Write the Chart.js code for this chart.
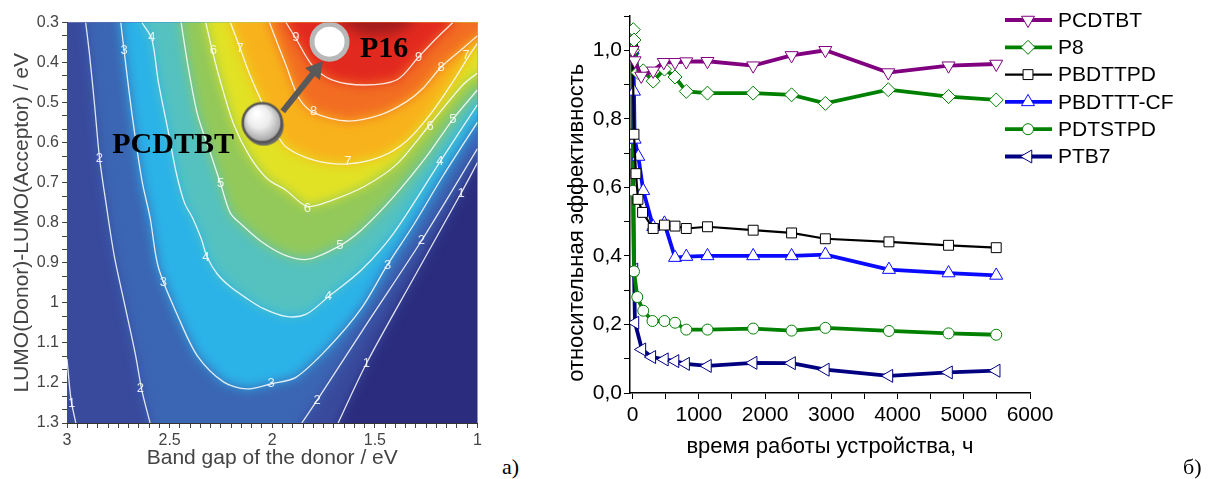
<!DOCTYPE html>
<html>
<head>
<meta charset="utf-8">
<script src="https://cdn.jsdelivr.net/npm/chart.js@4.4.1/dist/chart.umd.min.js"></script>
<style>
  body { margin: 0; background: #fff; width: 1212px; height: 479px; overflow: hidden; position: relative; }
  #map { position: absolute; left: 0; top: 0; }
  #chart { position: absolute; left: 520px; top: 0; }
  .tag { position: absolute; font-family: "Liberation Serif", "Times New Roman", serif; font-size: 22px; line-height: 22px; }
</style>
</head>
<body>
<canvas id="map" width="500" height="479"></canvas>
<canvas id="chart" width="692" height="479"></canvas>
<div class="tag" style="left:502px; top:456px">а)</div>
<div class="tag" style="left:1183px; top:456px">б)</div>
<script>
// ---- left panel: efficiency map, contours as [band gap, dLUMO] ----
const contour1Left = [[3.0, 1.14], [2.98, 1.243], [2.957, 1.3]];
const contour1Right = [[1.679, 1.3], [1.542, 1.152], [1.311, 0.938], [1.081, 0.727], [1.0, 0.65]];
const contour2Left = [[2.909, 0.3], [2.89, 0.381], [2.866, 0.504], [2.842, 0.636], [2.81, 0.751],
  [2.77, 0.882], [2.722, 0.997], [2.667, 1.128], [2.635, 1.219], [2.595, 1.3]];
const contour2Right = [[1.856, 1.3], [1.781, 1.243], [1.526, 1.042], [1.273, 0.845], [1.0, 0.615]];
const contour3 = [[2.738, 0.3], [2.722, 0.37], [2.683, 0.53], [2.635, 0.694], [2.595, 0.788], [2.555, 0.911],
  [2.459, 1.034], [2.364, 1.133], [2.236, 1.198], [2.124, 1.215], [2.005, 1.202], [1.885, 1.186],
  [1.727, 1.112], [1.566, 1.014], [1.44, 0.906], [1.311, 0.805], [1.167, 0.682], [1.0, 0.549]];
const contour4 = [[2.635, 0.3], [2.587, 0.341], [2.555, 0.448], [2.507, 0.571], [2.467, 0.677], [2.427, 0.751],
  [2.388, 0.788], [2.348, 0.837], [2.316, 0.887], [2.268, 0.928], [2.204, 0.96], [2.124, 0.989],
  [2.045, 1.014], [1.933, 1.034], [1.837, 1.029], [1.727, 0.985], [1.566, 0.918], [1.407, 0.825],
  [1.183, 0.648], [1.0, 0.505]];
const contour5 = [[2.444, 0.3], [2.411, 0.407], [2.364, 0.53], [2.3, 0.628], [2.252, 0.702], [2.204, 0.776],
  [2.148, 0.805], [2.045, 0.85], [1.933, 0.882], [1.823, 0.891], [1.67, 0.857], [1.566, 0.818],
  [1.407, 0.734], [1.249, 0.635], [1.12, 0.542], [1.0, 0.468]];
const contour6 = [[2.324, 0.3], [2.292, 0.37], [2.252, 0.448], [2.188, 0.554], [2.109, 0.635], [2.024, 0.69],
  [1.933, 0.719], [1.829, 0.759], [1.71, 0.744], [1.55, 0.709], [1.392, 0.653], [1.231, 0.554],
  [1.072, 0.456], [1.0, 0.426]];
const contour7 = [[2.204, 0.3], [2.156, 0.365], [2.109, 0.431], [2.045, 0.505], [1.99, 0.567], [1.933, 0.611],
  [1.789, 0.645], [1.632, 0.653], [1.47, 0.635], [1.344, 0.595], [1.231, 0.53], [1.12, 0.448],
  [1.04, 0.382], [1.0, 0.352]];
const contour8 = [[2.014, 0.3], [1.933, 0.407], [1.871, 0.488], [1.799, 0.525], [1.632, 0.546], [1.47, 0.53],
  [1.344, 0.497], [1.263, 0.463], [1.177, 0.411], [1.072, 0.365], [1.0, 0.333]];
const contour9 = [[1.933, 0.3], [1.885, 0.34], [1.805, 0.407], [1.71, 0.443], [1.55, 0.456], [1.392, 0.443],
  [1.287, 0.386], [1.201, 0.34], [1.12, 0.3]];
const hotSpot = [[1.67, 0.3], [1.55, 0.333], [1.407, 0.328], [1.311, 0.3]];

const bandColors = ['#2b2c7e', '#394a9c', '#3b66b4', '#2bb3e8', '#55c2bf', '#93c95a',
  '#e2e224', '#f8b21b', '#f26d22', '#e2291f', '#a31c1c'];

const labelText = ['3', '4', '6', '7', '9', '2', '5', '8', '7', '6', '5', '4', '3', '3', '4', '2', '1',
  '9', '8', '7', '6', '5', '4', '3', '2', '1', '1', '2'];
const labelEg = [2.722, 2.587, 2.287, 2.156, 1.885, 2.842, 2.252, 1.799, 1.632, 1.829, 1.67, 1.726, 2.005,
  2.531, 2.324, 2.643, 2.978, 1.287, 1.177, 1.057, 1.231, 1.12, 1.183, 1.438, 1.273, 1.08, 1.542, 1.781];
const labelD = [0.37, 0.338, 0.37, 0.365, 0.338, 0.64, 0.702, 0.522, 0.648, 0.764, 0.857, 0.985, 1.202,
  0.948, 0.887, 1.214, 1.251, 0.387, 0.411, 0.382, 0.559, 0.542, 0.648, 0.906, 0.845, 0.727, 1.152, 1.243];

const pcdtbtPoint = [2.049, 0.55];
const p16Point = [1.721, 0.348];
const arrowPath = [[1.949, 0.522], [1.787, 0.418]];
const nameText = ['PCDTBT', 'P16'];
const nameEg = [2.483, 1.455];
const nameD = [0.606, 0.366];

// ---- right panel: relative efficiency vs hours ----
const timePCDTBT = [0, 30, 130, 310, 470, 640, 810, 1130, 1820, 2400, 2910, 3860, 4770, 5490];
const effPCDTBT = [1.0, 0.97, 0.925, 0.94, 0.965, 0.965, 0.967, 0.968, 0.955, 0.985, 1.0, 0.935, 0.955, 0.96];
const timeP8 = [0, 10, 20, 80, 160, 310, 480, 640, 810, 1130, 1820, 2400, 2910, 3860, 4770, 5490];
const effP8 = [1.0, 1.06, 1.03, 0.935, 0.94, 0.91, 0.945, 0.922, 0.88, 0.875, 0.875, 0.87, 0.845, 0.885, 0.865, 0.855];
const timePBDTTPD = [0, 20, 50, 80, 150, 310, 480, 640, 810, 1130, 1820, 2400, 2910, 3870, 4770, 5490];
const effPBDTTPD = [1.0, 0.755, 0.64, 0.565, 0.527, 0.48, 0.49, 0.487, 0.48, 0.485, 0.475, 0.467, 0.45, 0.441, 0.431, 0.424];
const timePBDTTTCF = [0, 20, 30, 85, 160, 310, 480, 640, 810, 1130, 1820, 2400, 2910, 3870, 4770, 5490];
const effPBDTTTCF = [1.0, 0.88, 0.74, 0.69, 0.59, 0.485, 0.495, 0.395, 0.398, 0.4, 0.4, 0.4, 0.404, 0.36, 0.35, 0.343];
const timePDTSTPD = [0, 5, 20, 70, 160, 300, 480, 640, 810, 1130, 1820, 2400, 2910, 3870, 4770, 5490];
const effPDTSTPD = [1.0, 0.59, 0.355, 0.28, 0.24, 0.21, 0.21, 0.205, 0.185, 0.185, 0.188, 0.182, 0.19, 0.181, 0.174, 0.17];
const timePTB7 = [15, 5, 20, 35, 140, 290, 480, 640, 800, 1130, 1820, 2400, 2910, 3870, 4770, 5490];
const effPTB7 = [1.0, 0.72, 0.36, 0.205, 0.127, 0.105, 0.098, 0.093, 0.085, 0.079, 0.088, 0.087, 0.068, 0.05, 0.06, 0.065];

Chart.defaults.font.family = '"Liberation Sans", Arial, sans-serif';
Chart.defaults.color = '#000';

const toPts = arr => arr.map(p => ({x: p[0], y: p[1]}));

// polygons closed outside the plot so the soft edges only show at contours
const OUT_L = 3.2, OUT_R = 0.8, OUT_T = 0.2, OUT_B = 1.4;
function closeTop(c) {
  const first = c[0], last = c[c.length - 1];
  const tail = last[0] <= 1.0001 ? [[OUT_R, last[1]], [OUT_R, OUT_T]] : [[last[0], OUT_T]];
  return c.concat(tail, [[first[0], OUT_T]]);
}
const bandShapes = [
  [[OUT_L, OUT_T], [OUT_R, OUT_T], [OUT_R, OUT_B], [OUT_L, OUT_B]],
  [[OUT_L, OUT_T], [OUT_L, OUT_B], [contour1Right[0][0], OUT_B]].concat(contour1Right,
    [[OUT_R, contour1Right[contour1Right.length - 1][1]], [OUT_R, OUT_T]]),
  contour2Left.concat([[contour2Left[contour2Left.length - 1][0], OUT_B], [contour2Right[0][0], OUT_B]],
    contour2Right, [[OUT_R, contour2Right[contour2Right.length - 1][1]], [OUT_R, OUT_T], [contour2Left[0][0], OUT_T]]),
  closeTop(contour3), closeTop(contour4), closeTop(contour5), closeTop(contour6),
  closeTop(contour7), closeTop(contour8), closeTop(contour9), closeTop(hotSpot)
];

const mapSets = [];
bandShapes.forEach((shape, k) => {
  mapSets.push({
    data: toPts(shape), blurLayer: true, fill: 'shape', backgroundColor: bandColors[k],
    borderColor: 'transparent', borderWidth: 1, pointRadius: 0, tension: 0, order: 200 - k
  });
});
[contour1Left, contour1Right, contour2Left, contour2Right, contour3, contour4, contour5,
  contour6, contour7, contour8, contour9].forEach(c => {
  mapSets.push({
    data: toPts(c), borderColor: 'rgba(255,255,255,0.85)', borderWidth: 1.3,
    pointRadius: 0, fill: false, tension: 0.3, order: 50
  });
});

function ballImage() {
  const c = document.createElement('canvas');
  c.width = 54; c.height = 54;
  const g = c.getContext('2d');
  g.fillStyle = '#6a6a6a';
  g.beginPath(); g.arc(28.5, 30, 20, 0, 2 * Math.PI); g.fill();
  const grad = g.createRadialGradient(21, 17, 2, 27, 27, 22);
  grad.addColorStop(0, '#ffffff');
  grad.addColorStop(0.45, '#ececec');
  grad.addColorStop(1, '#959595');
  g.fillStyle = grad;
  g.beginPath(); g.arc(27, 27, 19.5, 0, 2 * Math.PI); g.fill();
  g.lineWidth = 2.5; g.strokeStyle = '#555';
  g.stroke();
  return c;
}

mapSets.push({
  data: toPts(arrowPath), borderColor: '#595959', borderWidth: 6, fill: false,
  pointRadius: [0, 11], pointStyle: 'triangle', pointRotation: 39,
  pointBackgroundColor: '#595959', pointBorderWidth: 0, order: 20
});
mapSets.push({
  data: toPts([pcdtbtPoint]), pointStyle: ballImage(), pointRadius: 21, borderWidth: 0, order: 10
});
mapSets.push({
  data: toPts([p16Point]), pointStyle: 'circle', pointRadius: 17.5, pointBorderWidth: 5,
  pointBorderColor: '#b8b8b8', pointBackgroundColor: '#fff', borderWidth: 0, order: 10
});

// blur only the filled bands: set ctx.filter right before each band is painted
function prepNext(chart, doneIndex) {
  const metas = chart.getSortedVisibleDatasetMetas();
  let pos = metas.length - 1;
  if (doneIndex !== null) pos = metas.findIndex(m => m.index === doneIndex) - 1;
  const next = metas[pos];
  chart.ctx.filter = next && chart.data.datasets[next.index].blurLayer ? 'blur(6px)' : 'none';
}
const softFill = {
  id: 'softFill',
  beforeDatasetsDraw(chart) { prepNext(chart, null); },
  afterDatasetDraw(chart, args) { prepNext(chart, args.index); },
  afterDatasetsDraw(chart) { chart.ctx.filter = 'none'; }
};

const mapText = {
  id: 'mapText',
  afterDatasetsDraw(chart) {
    const {ctx, scales: {x, y}} = chart;
    ctx.save();
    ctx.filter = 'none';
    ctx.textAlign = 'center';
    ctx.textBaseline = 'middle';
    ctx.fillStyle = 'rgba(255,255,255,0.85)';
    ctx.font = '13px "Liberation Sans"';
    labelText.forEach((t, i) => {
      ctx.fillText(t, x.getPixelForValue(labelEg[i]), y.getPixelForValue(labelD[i]));
    });
    ctx.fillStyle = '#000';
    ctx.font = 'bold 30px "Liberation Serif"';
    nameText.forEach((t, i) => {
      ctx.fillText(t, x.getPixelForValue(nameEg[i]), y.getPixelForValue(nameD[i]));
    });
    ctx.restore();
  }
};

new Chart(document.getElementById('map'), {
  type: 'line',
  data: {datasets: mapSets},
  options: {
    responsive: false,
    animation: false,
    events: [],
    layout: {padding: {top: 17, right: 15, bottom: 0, left: 0}},
    plugins: {legend: {display: false}, tooltip: {enabled: false}},
    scales: {
      x: {
        type: 'linear', reverse: true, min: 1, max: 3, z: 1,
        afterBuildTicks: s => { s.ticks = []; for (let i = 0; i <= 40; i++) s.ticks.push({value: 1 + i * 0.05}); },
        ticks: {
          autoSkip: false, maxRotation: 0, padding: 3, color: '#444', font: {size: 16},
          callback: v => { const r = Math.round(v * 100); return r % 50 === 0 ? String(r / 100) : ''; }
        },
        grid: {drawOnChartArea: false, tickLength: 5, color: '#444'},
        border: {color: '#333'},
        title: {display: true, text: 'Band gap of the donor / eV', color: '#444', font: {size: 21}, padding: {top: 0, bottom: 8}},
        afterFit: s => { s.height = 56; s.paddingLeft = 0; s.paddingRight = 0; }
      },
      y: {
        type: 'linear', reverse: true, min: 0.3, max: 1.3, z: 1,
        afterBuildTicks: s => { s.ticks = []; for (let k = 0; k <= 30; k++) s.ticks.push({value: 0.3 + k / 30}); },
        ticks: {
          autoSkip: false, padding: 3, color: '#444', font: {size: 16},
          callback: (v, i) => i % 3 === 0 ? String(Math.round(v * 10) / 10) : ''
        },
        grid: {drawOnChartArea: false, tickLength: 5, color: '#444'},
        border: {color: '#333'},
        title: {display: true, text: 'LUMO(Donor)-LUMO(Acceptor) / eV', color: '#444', font: {size: 21}, padding: {top: 10, bottom: 0}},
        afterFit: s => { s.width = 67; s.paddingTop = 0; s.paddingBottom = 0; }
      }
    }
  },
  plugins: [softFill, mapText]
});

// ---- right chart ----
function series(label, t, v, color, width, style, rot, r) {
  return {
    label, data: t.map((x, i) => ({x, y: v[i]})),
    borderColor: color, borderWidth: width, fill: false, tension: 0,
    pointStyle: style, pointRotation: rot, pointRadius: r,
    pointBorderColor: color, pointBackgroundColor: '#fff', pointBorderWidth: 1
  };
}
const lineSets = [
  series('PCDTBT', timePCDTBT, effPCDTBT, '#800080', 3.8, 'triangle', 180, 7.5),
  series('P8', timeP8, effP8, '#008000', 3.8, 'rectRot', 0, 7),
  series('PBDTTPD', timePBDTTPD, effPBDTTPD, '#000000', 2.2, 'rect', 0, 7),
  series('PBDTTT-CF', timePBDTTTCF, effPBDTTTCF, '#0a0aff', 3.8, 'triangle', 0, 7.5),
  series('PDTSTPD', timePDTSTPD, effPDTSTPD, '#008000', 3.8, 'circle', 0, 5.5),
  series('PTB7', timePTB7, effPTB7, '#000080', 3.8, 'triangle', 270, 7.5)
];

const lineLegend = {
  id: 'lineLegend',
  afterDraw(chart) {
    const ctx = chart.ctx;
    const x0 = chart.chartArea.right - 25;
    chart.data.datasets.forEach((ds, i) => {
      const y = 20 + i * 27.3;
      ctx.save();
      ctx.strokeStyle = ds.borderColor;
      ctx.lineWidth = ds.borderWidth;
      ctx.beginPath(); ctx.moveTo(x0, y); ctx.lineTo(x0 + 47, y); ctx.stroke();
      ctx.fillStyle = '#fff';
      ctx.strokeStyle = ds.pointBorderColor;
      ctx.lineWidth = 1;
      Chart.helpers.drawPoint(ctx, {pointStyle: ds.pointStyle, rotation: ds.pointRotation, radius: ds.pointRadius, borderWidth: 1}, x0 + 23, y);
      ctx.fillStyle = '#000';
      ctx.font = '21px "Liberation Sans"';
      ctx.textBaseline = 'middle';
      ctx.fillText(ds.label, x0 + 53, y + 1);
      ctx.restore();
    });
  }
};

new Chart(document.getElementById('chart'), {
  type: 'line',
  data: {datasets: lineSets},
  options: {
    responsive: false,
    animation: false,
    events: [],
    layout: {padding: {top: 16, right: 182, bottom: 0, left: 0}},
    plugins: {legend: {display: false}, tooltip: {enabled: false}},
    scales: {
      x: {
        type: 'linear', min: -40, max: 6000,
        afterBuildTicks: s => { s.ticks = []; for (let v = 0; v <= 6000; v += 500) s.ticks.push({value: v}); },
        ticks: {autoSkip: false, maxRotation: 0, padding: 4, font: {size: 21}, callback: v => v % 1000 === 0 ? String(v) : ''},
        grid: {drawOnChartArea: false, tickLength: 6, color: '#000'},
        border: {color: '#000', width: 1.5},
        title: {display: true, text: 'время работы устройства, ч', font: {size: 22}, padding: {top: 0, bottom: 19}},
        afterFit: s => { s.height = 86; s.paddingLeft = 0; s.paddingRight = 0; }
      },
      y: {
        type: 'linear', min: 0, max: 1.1,
        afterBuildTicks: s => { s.ticks = []; for (let k = 0; k <= 11; k++) s.ticks.push({value: k / 10}); },
        ticks: {autoSkip: false, padding: 2, font: {size: 21}, callback: (v, i) => i % 2 === 0 ? (i / 10).toFixed(1).replace('.', ',') : ''},
        grid: {drawOnChartArea: false, tickLength: 6, color: '#000'},
        border: {color: '#000', width: 1.5},
        title: {display: true, text: 'относительная эффективность\u00a0\u00a0\u00a0\u00a0\u00a0\u00a0', font: {size: 22}, padding: {top: 44, bottom: 0}},
        afterFit: s => { s.width = 110; s.paddingTop = 0; s.paddingBottom = 0; }
      }
    }
  },
  plugins: [lineLegend]
});
</script>
</body>
</html>
